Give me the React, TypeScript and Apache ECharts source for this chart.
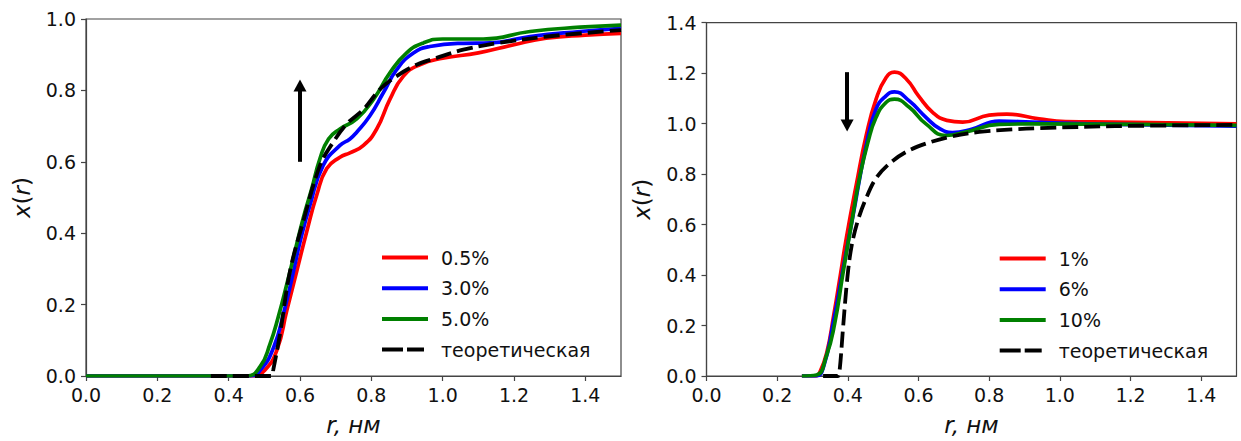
import React, { useEffect, useRef } from "react";
import * as echarts from "echarts";

// ---- Data: left panel (r in nm, x(r)) ----
const leftRed05: [number, number][] = [
  [0, 0], [0.47, 0], [0.5, 0.015], [0.535, 0.072], [0.563, 0.183], [0.591, 0.294],
  [0.619, 0.405], [0.647, 0.507], [0.675, 0.581], [0.712, 0.613], [0.74, 0.625],
  [0.778, 0.646], [0.815, 0.692], [0.852, 0.775], [0.89, 0.84], [0.936, 0.872],
  [1.0, 0.89], [1.1, 0.905], [1.2, 0.928], [1.29, 0.946], [1.4, 0.955], [1.5, 0.96],
];
const leftBlue30: [number, number][] = [
  [0, 0], [0.46, 0], [0.49, 0.018], [0.526, 0.08], [0.555, 0.18], [0.581, 0.29],
  [0.6, 0.375], [0.628, 0.479], [0.665, 0.59], [0.712, 0.646], [0.74, 0.664],
  [0.759, 0.683], [0.796, 0.729], [0.834, 0.794], [0.871, 0.858], [0.918, 0.905],
  [0.964, 0.923], [1.058, 0.932], [1.133, 0.933], [1.245, 0.951], [1.385, 0.965], [1.5, 0.974],
];
const leftGreen50: [number, number][] = [
  [0, 0], [0.45, 0], [0.488, 0.026], [0.516, 0.09], [0.539, 0.165], [0.563, 0.257],
  [0.586, 0.35], [0.609, 0.442], [0.633, 0.525], [0.656, 0.609], [0.68, 0.664],
  [0.712, 0.692], [0.759, 0.72], [0.806, 0.775], [0.852, 0.849], [0.899, 0.905],
  [0.946, 0.933], [1.0, 0.944], [1.114, 0.944], [1.245, 0.965], [1.385, 0.977], [1.5, 0.983],
];
const leftTheory: [number, number][] = [
  [0.35, 0], [0.52, 0], [0.525, 0.017], [0.544, 0.118], [0.572, 0.294], [0.609, 0.433],
  [0.656, 0.59], [0.693, 0.655], [0.731, 0.706], [0.778, 0.747], [0.824, 0.803],
  [0.871, 0.84], [0.927, 0.872], [0.983, 0.891], [1.058, 0.914], [1.152, 0.932],
  [1.293, 0.951], [1.5, 0.969],
];

// ---- Data: right panel ----
const rightRed1: [number, number][] = [
  [0.27, 0], [0.31, 0], [0.32, 0.013], [0.34, 0.09], [0.36, 0.24], [0.38, 0.41],
  [0.396, 0.549], [0.424, 0.758], [0.452, 0.953], [0.48, 1.097], [0.508, 1.182],
  [0.532, 1.204], [0.566, 1.176], [0.6, 1.11], [0.64, 1.045], [0.68, 1.013],
  [0.725, 1.006], [0.8, 1.034], [0.85, 1.038], [0.941, 1.019], [1.016, 1.008],
  [1.157, 1.006], [1.5, 0.999],
];
const rightBlue6: [number, number][] = [
  [0.27, 0], [0.31, 0], [0.33, 0.03], [0.36, 0.22], [0.386, 0.42], [0.414, 0.63],
  [0.452, 0.914], [0.48, 1.058], [0.508, 1.11], [0.532, 1.126], [0.574, 1.09],
  [0.621, 1.025], [0.66, 0.98], [0.696, 0.965], [0.75, 0.978], [0.828, 1.01],
  [0.922, 1.006], [1.11, 0.998], [1.5, 0.99],
];
const rightGreen10: [number, number][] = [
  [0.27, 0], [0.311, 0.004], [0.339, 0.078], [0.363, 0.209], [0.386, 0.405],
  [0.41, 0.601], [0.433, 0.784], [0.457, 0.927], [0.48, 1.025], [0.508, 1.084],
  [0.532, 1.097], [0.574, 1.065], [0.621, 0.999], [0.678, 0.953],
  [0.734, 0.967], [0.828, 0.997], [0.922, 0.999], [1.5, 0.993],
];
const rightTheory: [number, number][] = [
  [0.33, 0], [0.372, 0], [0.377, 0.026], [0.386, 0.183], [0.398, 0.38], [0.41, 0.51],
  [0.428, 0.614], [0.452, 0.705], [0.48, 0.784], [0.518, 0.842], [0.565, 0.888],
  [0.621, 0.921], [0.687, 0.947], [0.772, 0.967], [0.866, 0.977], [0.941, 0.982],
  [1.157, 0.99], [1.5, 0.995],
];

// Arrows: [r, yStart, yEnd]
const leftArrow: [number, number, number] = [0.6, 0.6, 0.814];
const rightArrow: [number, number, number] = [0.398, 1.204, 0.993];

const leftNames = ["0.5%", "3.0%", "5.0%", "теоретическая"];
const rightNames = ["1%", "6%", "10%", "теоретическая"];
const yTicksMax = [1.0, 1.4];

const FONT = "DejaVu Sans";
const AX = "#444";
const TXT = "#111";

export default function App() {
  const ref = useRef<HTMLDivElement>(null);
  useEffect(() => {
    if (!ref.current) return;
    const chart = echarts.init(ref.current, undefined, { renderer: "svg" });

    const mkX = (gridIndex: number) => ({
      type: "value",
      gridIndex,
      min: 0,
      max: 1.5,
      interval: 0.2,
      name: "r, нм",
      nameLocation: "middle",
      nameGap: 37,
      nameTextStyle: { fontSize: 23, fontStyle: "italic", fontFamily: FONT, color: TXT },
      axisLine: { show: true, lineStyle: { color: AX, width: 1.2 } },
      axisTick: { show: true, length: 5, lineStyle: { color: AX, width: 1.2 } },
      axisLabel: {
        fontSize: 19, color: TXT, fontFamily: FONT, margin: 9, showMaxLabel: false,
        formatter: (v: number) => v.toFixed(1),
      },
      splitLine: { show: false },
    });
    const mkY = (gridIndex: number, max: number) => ({
      type: "value",
      gridIndex,
      min: 0,
      max,
      interval: 0.2,
      name: "{i|x}{n|(}{i|r}{n|)}",
      nameLocation: "middle",
      nameGap: 53,
      nameTextStyle: {
        fontSize: 23, fontFamily: FONT, color: TXT,
        rich: {
          i: { fontSize: 23, fontStyle: "italic", fontFamily: FONT, color: TXT },
          n: { fontSize: 23, fontFamily: FONT, color: TXT },
        },
      },
      axisLine: { show: true, lineStyle: { color: AX, width: 1.2 } },
      axisTick: { show: true, length: 5, lineStyle: { color: AX, width: 1.2 } },
      axisLabel: {
        fontSize: 19, color: TXT, fontFamily: FONT, margin: 10,
        formatter: (v: number) => v.toFixed(1),
      },
      splitLine: { show: false },
    });

    const solid = (name: string, color: string, data: [number, number][], idx: number) => ({
      type: "line",
      name,
      xAxisIndex: idx,
      yAxisIndex: idx,
      data,
      smooth: 0.5,
      showSymbol: false,
      symbol: "none",
      lineStyle: { color, width: 3.7 },
      itemStyle: { color },
      emphasis: { disabled: true },
    });
    const dashed = (data: [number, number][], idx: number, arrow: [number, number, number]) => ({
      type: "line",
      name: "теоретическая",
      xAxisIndex: idx,
      yAxisIndex: idx,
      data,
      smooth: 0.35,
      showSymbol: false,
      symbol: "none",
      lineStyle: { color: "#000", width: 3.8, type: [16, 6] },
      itemStyle: { color: "#000" },
      emphasis: { disabled: true },
      markLine: {
        silent: true,
        symbol: ["none", "triangle"],
        symbolSize: [13, 12],
        label: { show: false },
        lineStyle: { color: "#000", width: 4, type: "solid" },
        emphasis: { disabled: true },
        data: [[{ coord: [arrow[0], arrow[1]] }, { coord: [arrow[0], arrow[2]] }]],
      },
    });

    const legendData = (names: string[]) =>
      names.map((n) =>
        n === "теоретическая"
          ? { name: n, lineStyle: { width: 4, type: [21, 4, 17, 60], color: "#000" } }
          : { name: n, lineStyle: { width: 4 } }
      );

    const legendCommon = {
      orient: "vertical",
      padding: 0,
      itemWidth: 46,
      itemHeight: 14,
      itemGap: 11.7,
      selectedMode: false,
      itemStyle: { opacity: 0 },
      lineStyle: { width: 4 },
      textStyle: { fontSize: 19, color: TXT, fontFamily: FONT, padding: [0, 0, 0, 8] },
    };

    chart.setOption({
      animation: false,
      backgroundColor: "#fff",
      grid: [
        { left: 86, top: 19, width: 535, height: 360.3, show: true, borderColor: AX, borderWidth: 1.2, containLabel: false },
        { left: 706.5, top: 22.7, width: 530, height: 357.3, show: true, borderColor: AX, borderWidth: 1.2, containLabel: false },
      ],
      xAxis: [mkX(0), mkX(1)],
      yAxis: [mkY(0, yTicksMax[0]), mkY(1, yTicksMax[1])],
      legend: [
        { ...legendCommon, data: legendData(leftNames), left: 380, top: 248 },
        { ...legendCommon, data: legendData(rightNames), left: 997.7, top: 249 },
      ],
      series: [
        solid(leftNames[0], "#ff0000", leftRed05, 0),
        solid(leftNames[1], "#0000ff", leftBlue30, 0),
        solid(leftNames[2], "#008000", leftGreen50, 0),
        dashed(leftTheory, 0, leftArrow),
        solid(rightNames[0], "#ff0000", rightRed1, 1),
        solid(rightNames[1], "#0000ff", rightBlue6, 1),
        solid(rightNames[2], "#008000", rightGreen10, 1),
        dashed(rightTheory, 1, rightArrow),
      ],
    });
    return () => chart.dispose();
  }, []);
  return (
    <div
      ref={ref}
      style={{ position: "absolute", left: 0, top: 0, width: 1241, height: 441, background: "#fff" }}
    />
  );
}
